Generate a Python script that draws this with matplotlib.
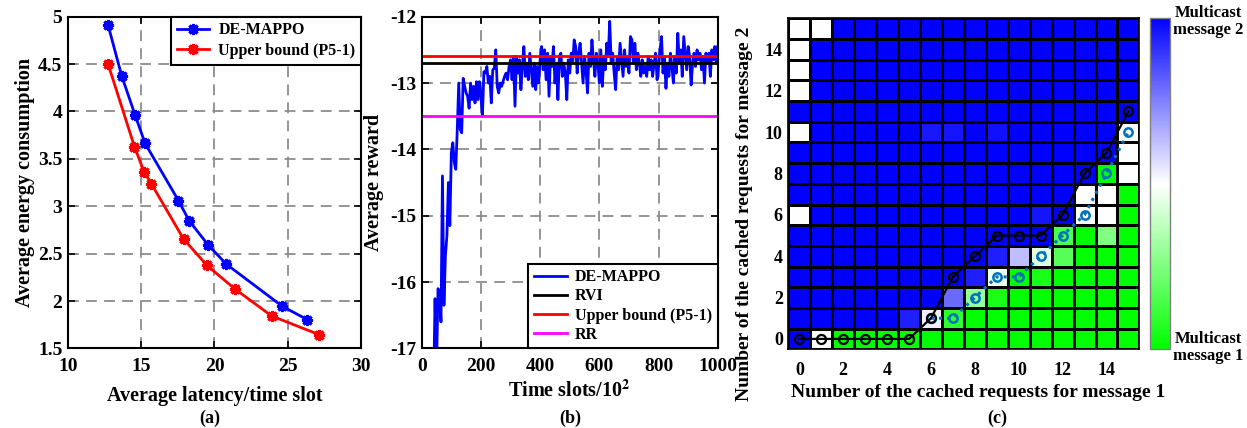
import matplotlib
matplotlib.use("Agg")
import matplotlib.pyplot as plt
import numpy as np
from matplotlib.colors import LinearSegmentedColormap

plt.rcParams['font.family'] = ['Liberation Serif', 'DejaVu Serif']
plt.rcParams['font.weight'] = 'bold'
plt.rcParams['axes.labelweight'] = 'bold'
plt.rcParams['mathtext.fontset'] = 'stix'
plt.rcParams['axes.unicode_minus'] = False

# ---- panel (a) data ----
de_latency = [12.73, 13.67, 14.58, 15.26, 17.54, 18.27, 19.57, 20.80, 24.63, 26.34]
de_energy = [4.916, 4.374, 3.963, 3.664, 3.06, 2.847, 2.591, 2.39, 1.944, 1.803]
ub_latency = [12.73, 14.54, 15.19, 15.70, 17.89, 19.48, 21.37, 23.90, 27.14]
ub_energy = [4.504, 3.628, 3.364, 3.235, 2.654, 2.377, 2.13, 1.842, 1.645]

# ---- panel (b) data ----
slots = list(range(40, 1001, 5))
reward = [
    -17.6, -16.25, -17.3, -16.1, -16.15, -16.6, -14.4, -16.35, -15.6, -15.3,
    -14.5, -15.15, -14.05, -13.9, -14.2, -14.3, -13.7, -13.0, -13.7, -13.75,
    -12.93, -13.05, -13.15, -13.2, -13.38, -13.0, -13.25, -13.05, -13.3, -12.98,
    -13.25, -12.98, -13.2, -13.5, -12.83, -12.85, -12.75, -13.0, -12.9, -13.3,
    -12.8, -12.78, -12.5, -13.05, -13.15, -13.0, -13.05, -12.97, -12.9, -12.85,
    -12.95, -12.75, -12.65, -12.95, -12.6, -13.35, -12.6, -12.85, -12.65, -13.1,
    -12.75, -12.45, -12.9, -12.7, -12.95, -12.55, -12.8, -13.05, -12.7, -13.1,
    -12.75, -13.0, -12.65, -12.45, -12.8, -12.5, -12.95, -12.55, -13.2, -12.6,
    -12.75, -12.45, -13.0, -12.7, -13.25, -12.6, -12.55, -12.9, -12.7, -12.85,
    -13.25, -12.65, -12.85, -12.55, -12.7, -12.35, -12.45, -12.85, -12.55, -12.4,
    -12.7, -13.0, -12.6, -12.8, -13.15, -12.55, -12.75, -12.35, -12.65, -12.9,
    -12.55, -12.7, -13.0, -12.5, -13.05, -12.6, -12.8, -12.4, -12.6, -12.07,
    -12.7, -12.55, -12.85, -13.1, -12.6, -12.8, -12.4, -12.65, -12.9, -12.5,
    -12.75, -12.6, -12.85, -12.3, -12.35, -12.7, -12.4, -12.8, -12.55, -12.7,
    -12.9, -12.65, -12.85, -12.75, -12.9, -12.6, -12.8, -12.65, -12.9, -12.7,
    -12.55, -12.95, -12.75, -12.5, -12.3, -12.85, -12.6, -13.08, -12.7, -12.9,
    -12.55, -12.75, -13.0, -12.6, -12.85, -12.25, -12.7, -12.5, -12.9, -12.3,
    -12.55, -12.8, -12.45, -12.6, -13.03, -12.7, -12.55, -12.75, -12.5, -12.65,
    -12.55, -12.8, -12.6, -13.0, -12.55, -12.7, -12.55, -12.9, -12.5, -12.65,
    -12.45, -12.7, -12.45,
]
rvi_level = -12.7
ub_level = -12.6
rr_level = -13.5

# ---- panel (c) data: rows y=0 (bottom) .. y=15 (top), cols x=0..15 ----
policy = [
    [1, 0, -1, -1, -1, -1, -1, -1, -1, -1, -1, -1, -1, -1, -1, -1],
    [1, 1, 1, 1, 1, 0.88, 0.07, -0.82, -1, -1, -1, -1, -1, -1, -1, -1],
    [1, 1, 1, 1, 1, 1, 1, 0.58, -0.4, -0.9, -1, -1, -1, -1, -1, -1],
    [1, 1, 1, 1, 1, 1, 1, 1, 0.88, -0.07, -1, -0.9, -1, -1, -1, -1],
    [1, 1, 1, 1, 1, 1, 1, 1, 1, 0.88, 0.25, -0.12, -0.65, -1, -1, -1],
    [1, 1, 1, 1, 1, 1, 1, 1, 1, 1, 1, 1, -0.7, -1, -0.5, -1],
    [0, 1, 1, 1, 1, 1, 1, 1, 1, 1, 1, 0.92, 1, 0, 0, -1],
    [1, 1, 1, 1, 1, 1, 1, 1, 1, 1, 1, 1, 1, 0, 0, -1],
    [1, 1, 1, 1, 1, 1, 1, 1, 1, 1, 1, 1, 1, 1, -1, 0],
    [1, 1, 1, 1, 1, 1, 1, 1, 1, 1, 1, 1, 1, 1, 1, 0],
    [0, 1, 1, 1, 1, 1, 0.9, 0.92, 1, 0.93, 1, 1, 1, 1, 1, 0],
    [1, 1, 1, 1, 1, 1, 1, 1, 1, 1, 1, 1, 1, 1, 1, 1],
    [0, 1, 1, 1, 1, 1, 1, 1, 1, 1, 1, 1, 1, 1, 1, 1],
    [0, 1, 1, 1, 1, 1, 1, 1, 1, 1, 1, 1, 1, 1, 1, 1],
    [0, 1, 1, 1, 1, 1, 1, 1, 1, 1, 1, 1, 1, 1, 1, 1],
    [0, 0, 1, 1, 1, 1, 1, 1, 1, 1, 1, 1, 1, 1, 1, 1],
]
thr_black_x = [0, 1, 2, 3, 4, 5, 6, 7, 8, 9, 10, 11, 12, 13, 14, 15]
thr_black_y = [0, 0, 0, 0, 0, 0, 1, 3, 4, 5, 5, 5, 6, 8, 9, 11]
thr_blue_x = [6, 7, 8, 9, 10, 11, 12, 13, 14, 15]
thr_blue_y = [1, 1, 2, 3, 3, 4, 5, 6, 8, 10]

fig = plt.figure(figsize=(12.47, 4.28), dpi=100)

def style_axes(ax):
	for s in ax.spines.values():
		s.set_linewidth(1.5)
	ax.tick_params(direction='in', top=True, right=True, labelsize=14, width=1.2, length=5, pad=7)
	ax.tick_params(axis='y', pad=4)
	ax.grid(True, linestyle=(0, (6, 4)), color='0.55', linewidth=1.3)
	ax.set_axisbelow(True)

# (a)
ax1 = fig.add_axes([0.0545, 0.186, 0.235, 0.775])
ast = (8, 2, 0)
ax1.plot(de_latency, de_energy, color='blue', lw=2, marker=ast, ms=8, mew=2.2, label='DE-MAPPO')
ax1.plot(ub_latency, ub_energy, color='red', lw=2, marker=ast, ms=8, mew=2.2, label='Upper bound (P5-1)')
ax1.set_xlim(10, 30)
ax1.set_ylim(1.5, 5)
ax1.set_xticks([10, 15, 20, 25, 30])
ax1.set_yticks([1.5, 2, 2.5, 3, 3.5, 4, 4.5, 5])
ax1.set_yticklabels(['1.5', '2', '2.5', '3', '3.5', '4', '4.5', '5'])
style_axes(ax1)
ax1.set_xlabel('Average latency/time slot', fontsize=14.5, labelpad=8)
ax1.set_ylabel('Average energy consumption', fontsize=14.5, labelpad=2)
leg = ax1.legend(loc='upper right', borderaxespad=0, fancybox=False, edgecolor='black',
	fontsize=11.5, handlelength=2.0, handletextpad=0.6, framealpha=1, borderpad=0.35,
	labelspacing=0.3)
leg.get_frame().set_linewidth(1.5)
fig.text(0.168, 0.023, '(a)', ha='center', va='center', fontsize=13, fontweight='bold')

# (b)
ax2 = fig.add_axes([0.3382, 0.186, 0.2374, 0.775])
ax2.plot(slots, reward, color='blue', lw=2, label='DE-MAPPO')
ax2.axhline(rvi_level, color='black', lw=2, label='RVI')
ax2.axhline(ub_level, color='red', lw=2, label='Upper bound (P5-1)')
ax2.axhline(rr_level, color='magenta', lw=2, label='RR')
ax2.set_xlim(0, 1000)
ax2.set_ylim(-17, -12)
ax2.set_xticks([0, 200, 400, 600, 800, 1000])
style_axes(ax2)
ax2.set_xlabel('Time slots/10$^\\mathbf{2}$', fontsize=14.5, labelpad=4)
ax2.set_ylabel('Average reward', fontsize=14.5)
leg = ax2.legend(loc='lower right', borderaxespad=0, fancybox=False, edgecolor='black',
	fontsize=11.5, handlelength=2.1, handletextpad=0.5, framealpha=1, labelspacing=0.2,
	borderpad=0.35)
leg.get_frame().set_linewidth(1.5)
fig.text(0.457, 0.023, '(b)', ha='center', va='center', fontsize=13, fontweight='bold')

# (c)
cmap = LinearSegmentedColormap.from_list('gwb', [(0, 1, 0), (1, 1, 1), (0, 0, 1)])
ax3 = fig.add_axes([0.6322, 0.184, 0.2815, 0.773])
grid = np.array(policy)
edges = np.arange(17) - 0.5
mesh = ax3.pcolormesh(edges, edges, grid, cmap=cmap, vmin=-1, vmax=1,
	edgecolors='black', linewidth=1.0)
ax3.plot(thr_blue_x, thr_blue_y, color='#0072BD', lw=2.2, ls=':', marker='o', ms=6,
	mfc='none', mew=1.8)
ax3.plot(thr_black_x, thr_black_y, color='black', lw=1.6, marker='o', ms=6.5,
	mfc='none', mew=1.6)
ax3.set_xlim(-0.5, 15.5)
ax3.set_ylim(-0.5, 15.5)
ax3.set_xticks(range(0, 15, 2))
ax3.set_yticks(range(0, 15, 2))
ax3.tick_params(axis='x', length=0, labelsize=13, pad=9)
ax3.tick_params(axis='y', length=0, labelsize=13, pad=4)
for s in ax3.spines.values():
	s.set_linewidth(1.2)
ax3.set_xlabel('Number of the cached requests for message 1', fontsize=14)
ax3.xaxis.set_label_coords(0.54, -0.105)
ax3.set_ylabel('Number of the cached requests for message 2', fontsize=14)
ax3.yaxis.set_label_coords(-0.1, 0.41)

cax = fig.add_axes([0.9222, 0.184, 0.016, 0.775])
cb = fig.colorbar(mesh, cax=cax)
cb.set_ticks([])
cb.outline.set_edgecolor('0.5')
cb.outline.set_linewidth(1)
fig.text(0.969, 0.949, 'Multicast\nmessage 2', ha='center', va='center', fontsize=12,
	fontweight='bold', linespacing=1.1)
fig.text(0.969, 0.189, 'Multicast\nmessage 1', ha='center', va='center', fontsize=12,
	fontweight='bold', linespacing=1.1)
fig.text(0.8, 0.023, '(c)', ha='center', va='center', fontsize=13, fontweight='bold')

fig.savefig('out.png', dpi=100)
